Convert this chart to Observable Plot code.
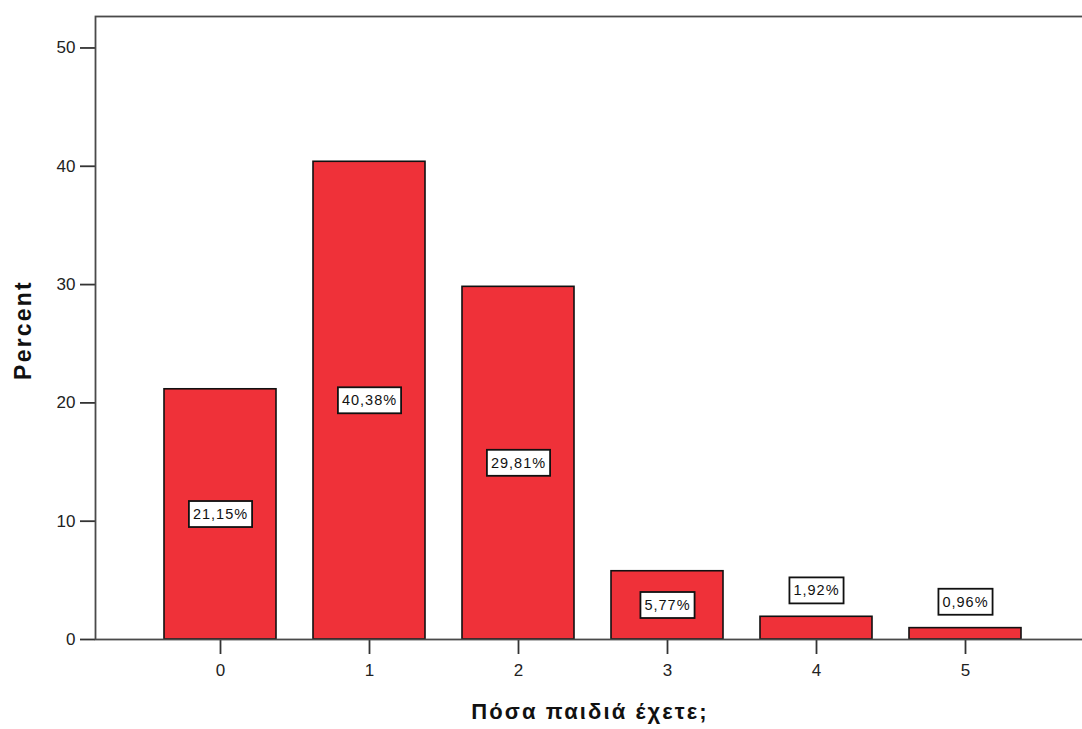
<!DOCTYPE html>
<html>
<head>
<meta charset="utf-8">
<script src="https://cdn.jsdelivr.net/npm/d3@7"></script>
<script src="https://cdn.jsdelivr.net/npm/@observablehq/plot@0.6"></script>
<style>
  html, body { margin: 0; padding: 0; background: #fff; overflow: hidden; }
  #chart svg { display: block; font-family: "Liberation Sans", Arial, sans-serif; }
  #chart [aria-label="x-axis tick"], #chart [aria-label="y-axis tick"] { stroke-width: 1.8px; stroke: #333; }
  #chart [aria-label="x-axis tick label"], #chart [aria-label="y-axis tick label"] { fill: #222; }
</style>
</head>
<body>
<div id="chart"></div>
<script>
const categories = ["0", "1", "2", "3", "4", "5"];
const percents = [21.15, 40.38, 29.81, 5.77, 1.92, 0.96];
const yTicks = [0, 10, 20, 30, 40, 50];
const xTitle = "Πόσα παιδιά έχετε;";
const yTitle = "Percent";

const data = categories.map((k, i) => ({k, v: percents[i]}));
const fmt = d => d.v.toFixed(2).replace(".", ",") + "%";

const plot = Plot.plot({
  width: 1082,
  height: 729,
  marginLeft: 95,
  marginRight: -8,
  marginTop: 16,
  marginBottom: 90,
  style: {fontSize: "17px", fontFamily: "'Liberation Sans', Arial, sans-serif", background: "white"},
  x: {domain: categories, paddingInner: 0.246, paddingOuter: 0.457, tickSize: 15, tickPadding: 9, label: null},
  y: {domain: [0, 52.66], ticks: yTicks, tickSize: 15, tickPadding: 5, label: null},
  marks: [
    Plot.barY(data, {x: "k", y: "v", fill: "#ef3139", stroke: "#111", strokeWidth: 1.6}),
    Plot.frame({stroke: "#4a4a4a", strokeWidth: 1.8}),
    Plot.text(data, {
      x: "k",
      y: d => d.v < 5 ? d.v + 2.2 : d.v / 2,
      text: fmt,
      fontSize: 14.5,
      fill: "#111",
      className: "vlab"
    }),
    Plot.text([xTitle], {frameAnchor: "bottom", dy: 79, dx: -3, fontSize: 22, fontWeight: "bold", fill: "#111", text: d => d}),
    Plot.text([yTitle], {frameAnchor: "left", textAnchor: "middle", dx: -72, dy: 2, rotate: -90, fontSize: 23, fontWeight: "bold", fill: "#111", text: d => d})
  ]
});

document.getElementById("chart").appendChild(plot);

// letter spacing for titles and value labels
plot.querySelectorAll("text").forEach(t => {
  if (t.textContent === xTitle) t.style.letterSpacing = "2.1px";
  if (t.textContent === yTitle) t.style.letterSpacing = "2.2px";
});

// draw the white boxes behind value labels
const NS = "http://www.w3.org/2000/svg";
plot.querySelectorAll(".vlab text").forEach(t => {
  t.style.letterSpacing = "1px";
  const b = t.getBBox();
  const r = document.createElementNS(NS, "rect");
  r.setAttribute("x", b.x - 4);
  r.setAttribute("y", b.y - 5);
  r.setAttribute("width", b.width + 8);
  r.setAttribute("height", b.height + 10);
  r.setAttribute("fill", "white");
  r.setAttribute("stroke", "#111");
  r.setAttribute("stroke-width", 1.8);
  const tr = t.getAttribute("transform");
  if (tr) r.setAttribute("transform", tr);
  t.parentNode.insertBefore(r, t);
});
</script>
</body>
</html>
